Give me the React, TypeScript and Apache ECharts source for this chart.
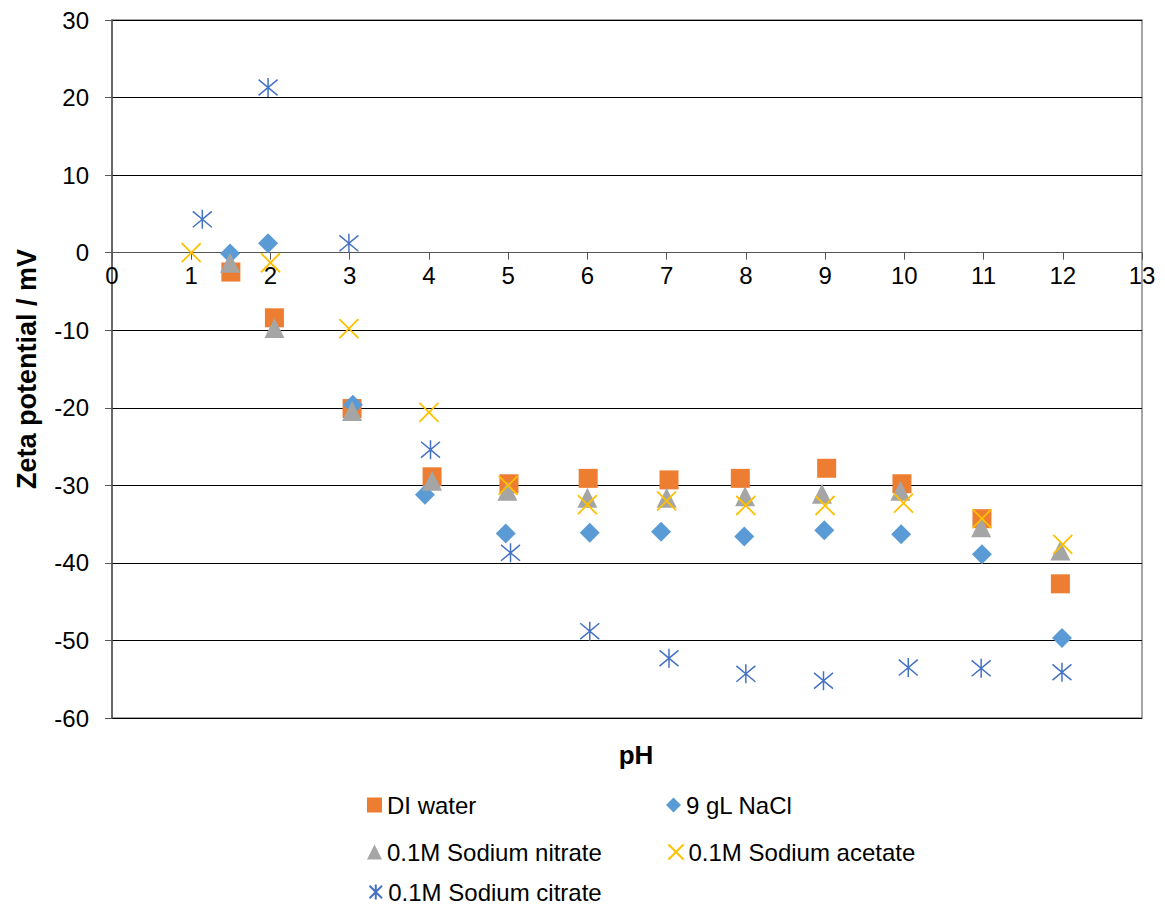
import React, { useEffect, useRef } from "react";
import * as echarts from "echarts";

const seriesNames = ["DI water", "9 gL NaCl", "0.1M Sodium nitrate", "0.1M Sodium acetate", "0.1M Sodium citrate"];

const diWater: [number, number][] = [
  [1.5, -2.5], [2.05, -8.4], [3.03, -20.1], [4.04, -28.9], [5.01, -29.8], [6.01, -29.1],
  [7.03, -29.3], [7.93, -29.1], [9.02, -27.8], [9.97, -29.8], [10.98, -34.3], [11.97, -42.7],
];
const nacl: [number, number][] = [
  [1.49, -0.1], [1.97, 1.2], [3.04, -19.6], [3.95, -31.2], [4.97, -36.2], [6.03, -36.1],
  [6.93, -36.0], [7.98, -36.6], [8.99, -35.8], [9.96, -36.3], [10.98, -38.9], [11.99, -49.7],
];
const nitrate: [number, number][] = [
  [1.49, -1.3], [2.05, -9.7], [3.03, -20.4], [4.04, -29.4], [4.99, -30.7], [6.0, -31.6],
  [7.0, -31.6], [7.99, -31.4], [8.96, -31.1], [9.95, -30.7], [10.97, -35.4], [11.97, -38.4],
];
const acetate: [number, number][] = [
  [1.0, 0], [2.0, -1.3], [2.99, -9.8], [4.0, -20.6], [5.0, -30.0], [6.0, -32.5],
  [7.0, -32.0], [8.0, -32.6], [9.0, -32.6], [9.99, -32.3], [10.98, -34.3], [12.0, -37.6],
];
const citrate: [number, number][] = [
  [1.14, 4.3], [1.97, 21.3], [2.99, 1.2], [4.02, -25.4], [5.03, -38.7], [6.03, -48.8],
  [7.03, -52.3], [8.0, -54.3], [8.98, -55.2], [10.05, -53.5], [10.97, -53.6], [11.99, -54.1],
];

const Y_MIN = -60;
const Y_MAX = 30;
const FONT = "Liberation Sans, Arial, sans-serif";
const X_PATH = "path://M0,0L10,10M10,0L0,10";
const STAR_PATH = "path://M0,0L10,10M10,0L0,10M5,-1L5,11";

const GRID_TOP = 20;
const GRID_BOTTOM = 192;
const CHART_H = 910;

export default function App() {
  const ref = useRef<HTMLDivElement>(null);
  useEffect(() => {
    if (!ref.current) return;
    const chart = echarts.init(ref.current, undefined, { renderer: "svg" });
    const legendText = { fontFamily: FONT, fontSize: 24, color: "#000" };
    const mkLegend = (name: string, left: number, top: number) => ({
      data: [name],
      left,
      top,
      padding: 0,
      itemWidth: 15,
      itemHeight: 15,
      itemGap: 4,
      textStyle: legendText,
      selectedMode: false,
    });
    // place the x axis on the y = 0 line of the value axis
    const plotH = CHART_H - GRID_TOP - GRID_BOTTOM;
    const zeroOffset = -(plotH * (0 - Y_MIN)) / (Y_MAX - Y_MIN);
    chart.setOption({
      animation: false,
      backgroundColor: "#fff",
      title: {
        text: "pH",
        left: 631,
        top: 737,
        textAlign: "center",
        textStyle: { fontFamily: FONT, fontSize: 26, fontWeight: "bold", color: "#000" },
      },
      grid: {
        left: 112,
        right: 23,
        top: GRID_TOP,
        bottom: GRID_BOTTOM,
        show: true,
        borderColor: "#888",
        borderWidth: 1.5,
        backgroundColor: "transparent",
      },
      legend: [
        mkLegend(seriesNames[0], 367, 793),
        mkLegend(seriesNames[1], 666, 793),
        mkLegend(seriesNames[2], 367, 840),
        mkLegend(seriesNames[3], 666, 840),
        mkLegend(seriesNames[4], 367, 880),
      ],
      xAxis: {
        type: "value",
        min: 0,
        max: 13,
        interval: 1,
        position: "bottom",
        offset: zeroOffset,
        axisLine: { onZero: false, lineStyle: { color: "#555", width: 1.2 } },
        axisTick: { show: true, length: 7, lineStyle: { color: "#555" } },
        axisLabel: { fontFamily: FONT, fontSize: 24, color: "#000", margin: 11 },
        splitLine: { show: false },
      },
      yAxis: {
        type: "value",
        min: Y_MIN,
        max: Y_MAX,
        interval: 10,
        name: "Zeta potential / mV",
        nameLocation: "middle",
        nameGap: 72,
        nameTextStyle: { fontFamily: FONT, fontSize: 27, fontWeight: "bold", color: "#000" },
        axisLine: { show: true, onZero: false, lineStyle: { color: "#555", width: 1.5 } },
        axisTick: { show: true, length: 7, lineStyle: { color: "#555" } },
        axisLabel: { fontFamily: FONT, fontSize: 24, color: "#000", margin: 23 },
        splitLine: { show: true, lineStyle: { color: "#000", width: 1 } },
      },
      series: [
        {
          name: seriesNames[0],
          type: "scatter",
          data: diWater,
          symbol: "rect",
          symbolSize: 19,
          itemStyle: { color: "#ED7D31", opacity: 1 },
        },
        {
          name: seriesNames[1],
          type: "scatter",
          data: nacl,
          symbol: "diamond",
          symbolSize: 20,
          itemStyle: { color: "#5B9BD5", opacity: 1 },
        },
        {
          name: seriesNames[2],
          type: "scatter",
          data: nitrate,
          symbol: "triangle",
          symbolSize: 20,
          itemStyle: { color: "#A5A5A5", opacity: 1 },
        },
        {
          name: seriesNames[3],
          type: "scatter",
          data: acetate,
          symbol: X_PATH,
          symbolSize: 19,
          itemStyle: { color: "none", borderColor: "#FFC000", borderWidth: 1.8, opacity: 1 },
        },
        {
          name: seriesNames[4],
          type: "scatter",
          data: citrate,
          symbol: STAR_PATH,
          symbolSize: 19,
          itemStyle: { color: "none", borderColor: "#4472C4", borderWidth: 1.5, opacity: 1 },
        },
      ],
    });
    return () => chart.dispose();
  }, []);
  return <div ref={ref} style={{ width: 1165, height: CHART_H, margin: -8 }} />;
}
